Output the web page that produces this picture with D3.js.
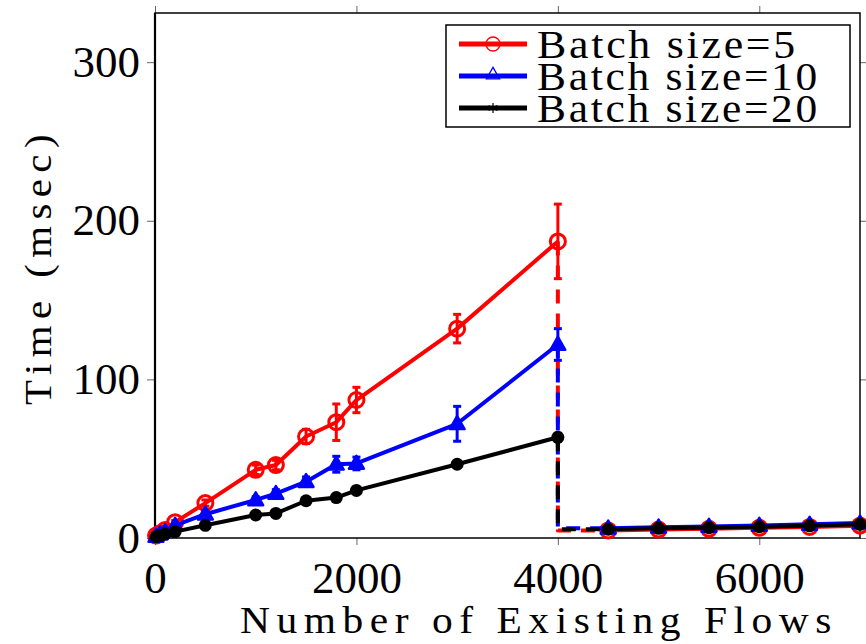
<!DOCTYPE html>
<html><head><meta charset="utf-8">
<script src="https://cdn.jsdelivr.net/npm/d3@7"></script>
<style>body{margin:0;background:#fff}svg{display:block}</style>
</head><body><svg id="c" width="866" height="644"></svg>
<script>
// ---- data ----
const xLeft  = [10, 50, 100, 200, 500, 1000, 1200, 1500, 1800, 2000, 3000, 4000];
const xRight = [4500, 5000, 5500, 6000, 6500, 7000];

const redLeft   = [1.5, 3, 5, 10, 22, 43, 46, 64, 73, 87, 132, 187];
const redErr    = [0.5, 0.5, 1, 1, 2, 3, 3, 4.5, 11.5, 8, 9, 23.5];
const redRight  = [4.8, 5.3, 5.8, 6.4, 7.0, 7.8];

const blueLeft  = [1, 2.5, 4, 8, 15, 24, 28, 35.5, 46.5, 47, 72, 122];
const blueErr   = [0.5, 0.5, 1, 1, 2, 2, 2.5, 3, 5, 4, 11, 10];
const blueRight = [6.2, 6.8, 7.3, 7.9, 8.6, 9.4];

const blackLeft  = [0.8, 1.5, 2.5, 4, 8, 14.5, 15.5, 23.5, 25.5, 30, 46.5, 63.5];
const blackErr   = [0.2, 0.3, 0.5, 0.5, 1, 1, 1, 1.5, 1.5, 1.5, 2, 2.5];
const blackRight = [5.5, 6.1, 6.5, 7.1, 7.7, 8.6];

const seriesNames = ["Batch size=5", "Batch size=10", "Batch size=20"];
const xTicks = [0, 2000, 4000, 6000];
const yTicks = [0, 100, 200, 300];

// ---- setup ----
const svg = d3.select("#c");
const x = d3.scaleLinear().domain([0, 7000]).range([155, 860]);
const y = d3.scaleLinear().domain([0, 331]).range([538, 13]);
const FONT = "'Liberation Serif', 'Times New Roman', serif";

const series = [
  {name: seriesNames[0], color: "#ff0000", left: redLeft, err: redErr, right: redRight, marker: "circle"},
  {name: seriesNames[1], color: "#0000ff", left: blueLeft, err: blueErr, right: blueRight, marker: "triangle"},
  {name: seriesNames[2], color: "#000000", left: blackLeft, err: blackErr, right: blackRight, marker: "dot"}
];

// ---- axes ticks ----
function styleAxis(g){
  g.select(".domain").remove();
  g.selectAll(".tick line").attr("stroke", "#666").attr("stroke-width", 1);
  g.selectAll("text").attr("font-family", FONT).attr("font-size", 45).attr("fill", "#000");
}
svg.append("g").attr("transform", "translate(0,538)")
  .call(d3.axisBottom(x).tickValues(xTicks).tickSizeInner(7).tickSizeOuter(0).tickFormat(d3.format("d")))
  .call(styleAxis)
  .call(g => g.selectAll("text").attr("dy", null).attr("y", 55)
    .attr("textLength", d => String(d).length * 22.5).attr("lengthAdjust", "spacingAndGlyphs"));
svg.append("g").attr("transform", "translate(155,0)")
  .call(d3.axisLeft(y).tickValues(yTicks).tickSizeInner(8).tickSizeOuter(0).tickFormat(d3.format("d")))
  .call(styleAxis)
  .call(g => g.selectAll("text").attr("dy", null).attr("x", -15).attr("y", 14));
svg.append("g").attr("transform", "translate(0,13)")
  .call(d3.axisTop(x).tickValues(xTicks).tickSizeInner(7).tickSizeOuter(0).tickFormat(""))
  .call(styleAxis);
svg.append("g").attr("transform", "translate(860,0)")
  .call(d3.axisRight(y).tickValues(yTicks).tickSizeInner(7).tickSizeOuter(0).tickFormat(""))
  .call(styleAxis);

// ---- box ----
svg.append("rect").attr("x", x(0)).attr("y", y(331)).attr("width", x(7000) - x(0)).attr("height", y(0) - y(331))
  .attr("fill", "none").attr("stroke", "#000").attr("stroke-width", 1.5);
svg.append("line").attr("x1", x(0)).attr("x2", x(0)).attr("y1", y(331)).attr("y2", y(0))
  .attr("stroke", "#000").attr("stroke-width", 2.2);

// ---- axis labels ----
svg.append("text").attr("x", 240).attr("y", 633)
  .attr("font-family", FONT).attr("font-size", 38).attr("letter-spacing", 6)
  .attr("textLength", 598).attr("lengthAdjust", "spacingAndGlyphs")
  .text("Number of Existing Flows");
svg.append("text").attr("transform", "translate(51,405) rotate(-90)")
  .attr("font-family", FONT).attr("font-size", 38).attr("letter-spacing", 6)
  .attr("textLength", 277).attr("lengthAdjust", "spacingAndGlyphs")
  .text("Time (msec)");

// ---- data marks ----
const line = d3.line().x(d => x(d[0])).y(d => y(d[1]));
const tri = d3.symbol().type(d3.symbolTriangle).size(95);

series.forEach(s => {
  const g = svg.append("g");
  const leftPts = xLeft.map((xv, i) => [xv, s.left[i]]);
  const rightPts = xRight.map((xv, i) => [xv, s.right[i]]);
  const last = leftPts[leftPts.length - 1];
  const dashPts = [last, [last[0], rightPts[0][1]], rightPts[0]];

  g.append("path").attr("d", line(leftPts)).attr("fill", "none")
    .attr("stroke", s.color).attr("stroke-width", 4).attr("stroke-linejoin", "round");
  g.append("path").attr("d", line(rightPts)).attr("fill", "none")
    .attr("stroke", s.color).attr("stroke-width", 4).attr("stroke-linejoin", "round");
  g.append("path").attr("d", line(dashPts)).attr("fill", "none")
    .attr("stroke", s.color).attr("stroke-width", 4).attr("stroke-dasharray", "14,10")
    .attr("stroke-linejoin", "round");

  // error bars
  leftPts.forEach((p, i) => {
    const e = s.err[i];
    const cx = x(p[0]), y1 = y(p[1] - e), y2 = y(p[1] + e);
    g.append("line").attr("x1", cx).attr("x2", cx).attr("y1", y1).attr("y2", y2)
      .attr("stroke", s.color).attr("stroke-width", 3);
    [y1, y2].forEach(yy => g.append("line").attr("x1", cx - 4).attr("x2", cx + 4).attr("y1", yy).attr("y2", yy)
      .attr("stroke", s.color).attr("stroke-width", 3));
  });

  const allPts = leftPts.concat(rightPts);
  if (s.marker === "circle") {
    g.selectAll(null).data(allPts).join("circle")
      .attr("cx", d => x(d[0])).attr("cy", d => y(d[1])).attr("r", 7.5)
      .attr("fill", "none").attr("stroke", s.color).attr("stroke-width", 3);
  } else if (s.marker === "triangle") {
    g.selectAll(null).data(allPts).join("path")
      .attr("d", tri).attr("transform", d => `translate(${x(d[0])},${y(d[1]) + 1})`)
      .attr("fill", s.color).attr("stroke", s.color).attr("stroke-width", 2.5).attr("stroke-linejoin", "round");
  } else {
    g.selectAll(null).data(allPts).join("circle")
      .attr("cx", d => x(d[0])).attr("cy", d => y(d[1])).attr("r", 6.5)
      .attr("fill", s.color);
  }
});

// ---- legend ----
const lg = svg.append("g");
lg.append("rect").attr("x", 446).attr("y", 25).attr("width", 404).attr("height", 102)
  .attr("fill", "#fff").attr("stroke", "#000").attr("stroke-width", 1.5);
const rowY = [44, 76, 108];
const txtLen = [261, 283, 283];
series.forEach((s, i) => {
  const cy = rowY[i];
  lg.append("line").attr("x1", 459).attr("x2", 527).attr("y1", cy).attr("y2", cy)
    .attr("stroke", s.color).attr("stroke-width", 5);
  if (s.marker === "circle") {
    lg.append("circle").attr("cx", 493).attr("cy", cy).attr("r", 7).attr("fill", "none")
      .attr("stroke", s.color).attr("stroke-width", 1.3);
  } else if (s.marker === "triangle") {
    lg.append("path").attr("d", d3.symbol().type(d3.symbolTriangle).size(75)())
      .attr("transform", `translate(493,${cy - 1})`).attr("fill", "none")
      .attr("stroke", s.color).attr("stroke-width", 1.3);
  } else {
    lg.append("path").attr("d", d3.symbol().type(d3.symbolAsterisk).size(70)())
      .attr("transform", `translate(493,${cy})`).attr("fill", "none")
      .attr("stroke", s.color).attr("stroke-width", 1.2);
  }
  lg.append("text").attr("x", 537).attr("y", cy + 14)
    .attr("font-family", FONT).attr("font-size", 40).attr("letter-spacing", 2.5)
    .attr("textLength", txtLen[i]).attr("lengthAdjust", "spacingAndGlyphs")
    .text(s.name);
});
</script></body></html>
